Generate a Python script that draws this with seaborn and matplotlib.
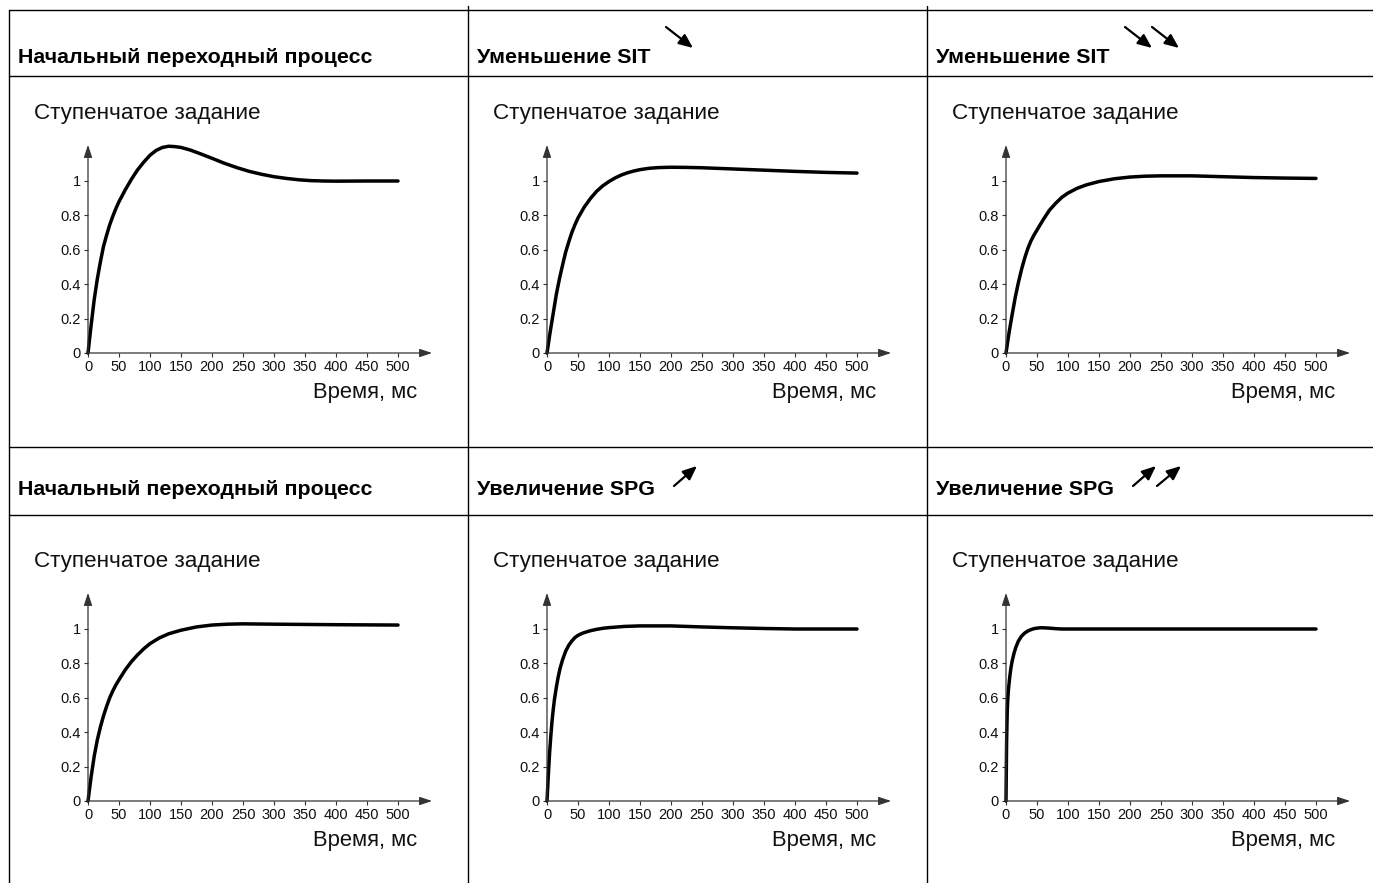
import matplotlib
matplotlib.use("Agg")
import matplotlib.pyplot as plt
import seaborn as sns

sns.set_theme(style="white")
plt.rcParams['font.family'] = ['Liberation Sans', 'DejaVu Sans']

t_init_1 = [0, 5, 10, 15, 20, 25, 30, 35, 40, 45, 50, 60, 70, 80, 90, 100, 110, 120, 130, 140, 150,
            165, 180, 200, 220, 240, 260, 280, 300, 320, 340, 360, 380, 400, 450, 500]
v_init_1 = [0, 0.16, 0.31, 0.43, 0.53, 0.62, 0.685, 0.745, 0.795, 0.84, 0.88, 0.948, 1.01, 1.065,
            1.11, 1.15, 1.178, 1.195, 1.202, 1.2, 1.195, 1.18, 1.16, 1.132, 1.103, 1.078, 1.056,
            1.039, 1.025, 1.015, 1.007, 1.002, 1.0, 0.999, 1.0, 1.0]

t_sit_1 = [0, 5, 10, 15, 20, 25, 30, 35, 40, 45, 50, 60, 70, 80, 90, 100, 110, 120, 130, 140, 150,
           165, 180, 200, 225, 250, 300, 350, 400, 450, 500]
v_sit_1 = [0, 0.12, 0.23, 0.34, 0.43, 0.51, 0.585, 0.645, 0.7, 0.745, 0.785, 0.848, 0.898, 0.94,
           0.972, 0.997, 1.018, 1.035, 1.048, 1.058, 1.066, 1.074, 1.078, 1.08, 1.079, 1.077,
           1.07, 1.063, 1.056, 1.05, 1.046]

t_sit_2 = [0, 5, 10, 15, 20, 25, 30, 35, 40, 45, 50, 60, 70, 80, 90, 100, 115, 130, 150, 175, 200,
           225, 250, 300, 350, 400, 450, 500]
v_sit_2 = [0, 0.12, 0.225, 0.325, 0.41, 0.485, 0.55, 0.605, 0.65, 0.685, 0.715, 0.775, 0.83,
           0.87, 0.905, 0.93, 0.958, 0.978, 0.997, 1.013, 1.023, 1.028, 1.03, 1.03, 1.025, 1.02,
           1.017, 1.015]

t_init_2 = [0, 5, 10, 15, 20, 25, 30, 35, 40, 45, 50, 60, 70, 80, 90, 100, 115, 130, 150, 175, 200,
            225, 250, 300, 400, 500]
v_init_2 = [0, 0.14, 0.26, 0.355, 0.43, 0.495, 0.55, 0.6, 0.64, 0.675, 0.705, 0.762, 0.81, 0.85,
            0.885, 0.915, 0.948, 0.972, 0.993, 1.012, 1.023, 1.028, 1.03, 1.028, 1.025, 1.023]

t_spg_1 = [0, 2, 4, 6, 8, 10, 12, 15, 18, 21, 25, 30, 35, 40, 45, 50, 55, 60, 70, 80, 90, 100,
           125, 150, 200, 250, 300, 350, 400, 500]
v_spg_1 = [0, 0.14, 0.27, 0.37, 0.46, 0.53, 0.59, 0.66, 0.72, 0.77, 0.82, 0.87, 0.905, 0.93,
           0.95, 0.963, 0.972, 0.979, 0.99, 0.998, 1.004, 1.008, 1.015, 1.018, 1.018, 1.012,
           1.007, 1.003, 1.0, 1.0]

t_spg_2 = [0, 1, 2, 3, 4, 6, 8, 10, 13, 16, 20, 25, 30, 35, 40, 45, 50, 55, 60, 70, 80, 90, 100,
           150, 500]
v_spg_2 = [0, 0.35, 0.52, 0.6, 0.65, 0.72, 0.775, 0.815, 0.86, 0.895, 0.93, 0.958, 0.976, 0.988,
           0.996, 1.002, 1.005, 1.007, 1.007, 1.005, 1.002, 1.0, 1.0, 1.0, 1.0]

titles = ["Начальный переходный процесс", "Уменьшение SIT", "Уменьшение SIT",
          "Начальный переходный процесс", "Увеличение SPG", "Увеличение SPG"]
n_arrows = [0, 1, 2, 0, 1, 2]
series = [(t_init_1, v_init_1), (t_sit_1, v_sit_1), (t_sit_2, v_sit_2),
          (t_init_2, v_init_2), (t_spg_1, v_spg_1), (t_spg_2, v_spg_2)]

x_ticks = list(range(0, 501, 50))
y_ticks = [0, 0.2, 0.4, 0.6, 0.8, 1]
y_ticklabels = ["0", "0.2", "0.4", "0.6", "0.8", "1"]

W, H = 1373, 883
fig = plt.figure(figsize=(W / 100, H / 100), dpi=100)

# фон-таблица в пикселях
bg = fig.add_axes([0, 0, 1, 1], zorder=0)
bg.set_xlim(0, W)
bg.set_ylim(H, 0)
bg.axis("off")

for y in [10, 76, 447, 515]:
    bg.plot([9, W], [y, y], color="black", lw=1.0)
bg.plot([9, 9], [10, H], color="black", lw=1.0)
for x in [468, 927]:
    bg.plot([x, x], [6, H], color="black", lw=1.0)

col_left = [9, 468, 927]
row_title_y = [63, 495]
row_off = [0, 448]

for i in range(6):
    r, c = divmod(i, 3)
    cl = col_left[c]
    bg.text(cl + 9, row_title_y[r], titles[i], fontsize=15.4, fontweight="bold",
            va="baseline", ha="left", color="black")
    bg.text(cl + 25, 119 + row_off[r], "Ступенчатое задание", fontsize=16.2,
            va="baseline", ha="left", color="#111111")
    bg.text(cl + 408, 398 + row_off[r], "Время, мс", fontsize=15.8,
            va="baseline", ha="right", color="#111111")
    for k in range(n_arrows[i]):
        if r == 0:
            start = (cl + 198 + 27 * k, 27)
            end = (cl + 225 + 27 * k, 48)
        else:
            start = (cl + 206 + 24 * k, 486)
            end = (cl + 229 + 25 * k, 466)
        bg.annotate("", xy=end, xytext=start,
                    arrowprops=dict(arrowstyle="-|>,head_length=0.7,head_width=0.3",
                                    color="black", lw=1.6, mutation_scale=12,
                                    shrinkA=0, shrinkB=0))

# графики
px_per_ms = 0.62
px_per_unit = 172
x_max, y_max = 555, 1.21
for i in range(6):
    r, c = divmod(i, 3)
    x0 = 88 + 459 * c
    y0 = 353 + row_off[r]
    w = x_max * px_per_ms
    h = y_max * px_per_unit
    ax = fig.add_axes([x0 / W, 1 - y0 / H, w / W, h / H], zorder=2)
    ax.patch.set_alpha(0)
    t, v = series[i]
    sns.lineplot(x=t, y=v, ax=ax, color="black", linewidth=2.5, clip_on=False,
                 sort=False, estimator=None)
    ax.set_xlim(0, x_max)
    ax.set_ylim(0, y_max)
    for s in ax.spines.values():
        s.set_visible(False)
    ax.set_xticks(x_ticks)
    ax.set_yticks(y_ticks)
    ax.set_yticklabels(y_ticklabels)
    ax.tick_params(direction="out", length=3, width=0.8, color="#333333",
                   labelsize=10.5, pad=2, labelcolor="#111111",
                   bottom=True, left=True)
    ax.set_xlabel("")
    ax.set_ylabel("")
    for tip in [(1, 0), (0, 1)]:
        ax.annotate("", xy=tip, xytext=(0, 0), xycoords="axes fraction",
                    arrowprops=dict(arrowstyle="-|>,head_length=0.75,head_width=0.25",
                                    color="#333333", lw=0.9, mutation_scale=10,
                                    shrinkA=0, shrinkB=0))

fig.savefig("out.png", dpi=100)
